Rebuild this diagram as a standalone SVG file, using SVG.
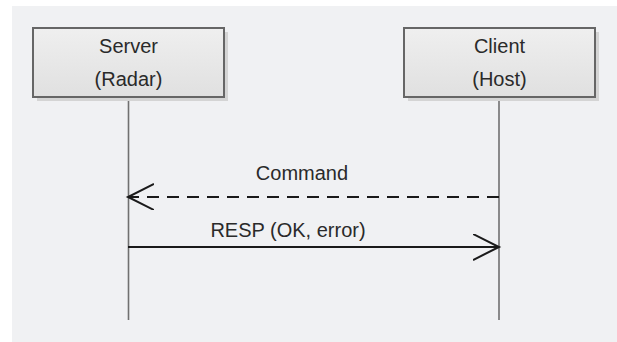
<svg xmlns="http://www.w3.org/2000/svg" width="617" height="342" viewBox="0 0 617 342">
<defs>
<linearGradient id="boxfill" x1="0" y1="0" x2="0" y2="1">
<stop offset="0" stop-color="#efefef"/>
<stop offset="1" stop-color="#e0e0e0"/>
</linearGradient>
<marker id="open" markerWidth="30" markerHeight="30" refX="26" refY="13" orient="auto" markerUnits="userSpaceOnUse">
<path d="M0,0 L26,13 L0,26" fill="none" stroke="#1a1a1a" stroke-width="2"/>
</marker>
</defs>
<style>
.shadow{fill:#d4d4d4}
.box{fill:url(#boxfill);stroke:#666;stroke-width:2}
.life{stroke:#707070;stroke-width:1.6}
.lbl{font-family:"Liberation Sans",Arial,sans-serif;font-size:20px;fill:#2a2a2a;text-anchor:middle}
.msg{stroke:#1a1a1a;stroke-width:2;fill:none}
</style>
<rect x="12" y="6" width="605" height="336" fill="#f0f1f3"/>
<g id="connectors">
<line class="life" x1="128.5" y1="97" x2="128.5" y2="320"/>
<line class="life" x1="499" y1="97" x2="499" y2="320"/>
<path class="msg" d="M499,197 L128,197" stroke-dasharray="12 8" marker-end="url(#open)"/>
<text class="lbl" x="302" y="180">Command</text>
<path class="msg" d="M128,247 L499,247" marker-end="url(#open)"/>
<text class="lbl" x="288" y="237">RESP (OK, error)</text>
</g>
<g id="server">
<rect class="shadow" x="37" y="32" width="191" height="69"/>
<rect class="box" x="33" y="28" width="191" height="69"/>
<text class="lbl" x="128.5" y="53">Server</text>
<text class="lbl" x="128.5" y="86">(Radar)</text>
</g>
<g id="client">
<rect class="shadow" x="408" y="32" width="191" height="69"/>
<rect class="box" x="404" y="28" width="191" height="69"/>
<text class="lbl" x="499.5" y="53">Client</text>
<text class="lbl" x="499.5" y="86">(Host)</text>
</g>
</svg>
